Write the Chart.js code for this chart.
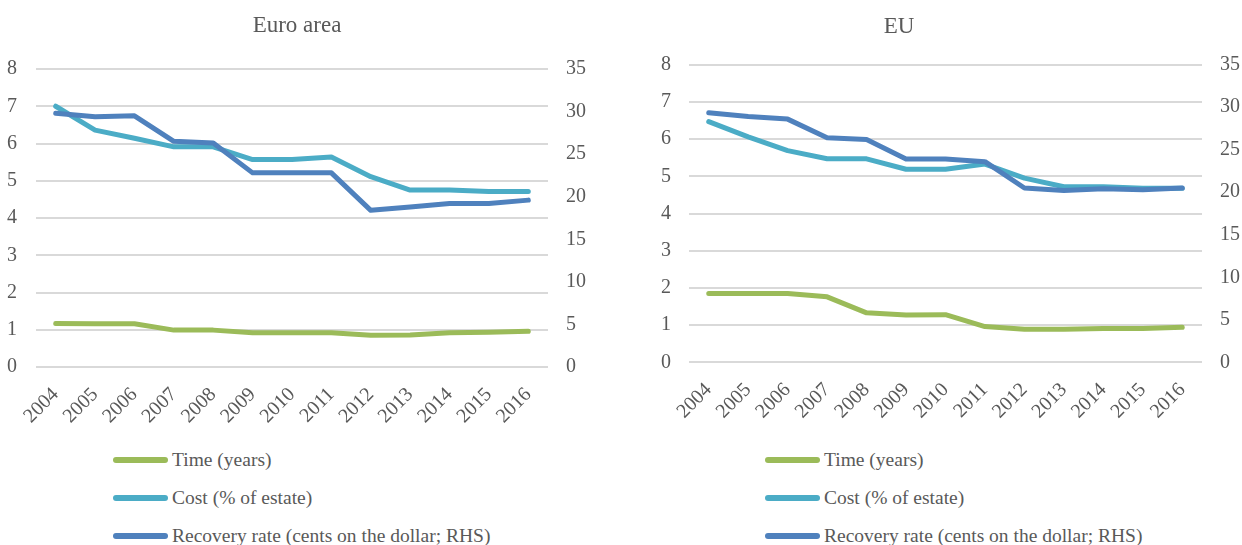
<!DOCTYPE html>
<html>
<head>
<meta charset="utf-8">
<script src="https://cdn.jsdelivr.net/npm/chart.js@4"></script>
<style>
  body { margin: 0; background: #fff; width: 1242px; height: 545px; position: relative; overflow: hidden; }
  .box { position: absolute; top: 0; height: 430px; }
  .legend { position: absolute; font-family: "Liberation Serif", serif; font-size: 19.5px; color: #595959; }
  .legend div { position: absolute; white-space: nowrap; height: 24px; line-height: 24px; }
  .legend span.swatch { position: absolute; left: 0; top: 9px; width: 55px; height: 6px; border-radius: 3px; }
  .legend span.txt { position: absolute; left: 59px; top: 0; }
</style>
</head>
<body>
<div class="box" style="left:0;width:620px"><canvas id="euroChart"></canvas></div>
<div class="box" style="left:556px;width:686px"><canvas id="euChart"></canvas></div>
<div class="legend" id="euroLegend" style="left:113px;top:448px"></div>
<div class="legend" id="euLegend" style="left:765px;top:448px"></div>
<script>
const years = ['2004','2005','2006','2007','2008','2009','2010','2011','2012','2013','2014','2015','2016'];

// Euro area
const euroTime = [1.17, 1.16, 1.16, 0.99, 0.99, 0.92, 0.92, 0.92, 0.85, 0.86, 0.92, 0.93, 0.96];
const euroCost = [7.0, 6.36, 6.14, 5.91, 5.91, 5.57, 5.57, 5.64, 5.11, 4.75, 4.75, 4.71, 4.71];
const euroRecovery = [29.8, 29.4, 29.5, 26.5, 26.3, 22.8, 22.8, 22.8, 18.4, 18.8, 19.2, 19.2, 19.6];

// EU
const euTime = [1.85, 1.85, 1.85, 1.76, 1.33, 1.27, 1.28, 0.96, 0.89, 0.89, 0.91, 0.91, 0.94];
const euCost = [6.47, 6.06, 5.69, 5.47, 5.47, 5.19, 5.19, 5.33, 4.95, 4.72, 4.72, 4.68, 4.68];
const euRecovery = [29.35, 28.9, 28.6, 26.4, 26.2, 23.9, 23.9, 23.6, 20.5, 20.2, 20.4, 20.3, 20.5];

const seriesNames = ['Time (years)', 'Cost (% of estate)', 'Recovery rate (cents on the dollar; RHS)'];
const seriesColors = ['#9BBB59', '#4BACC6', '#4F81BD'];

Chart.defaults.font.family = '"Liberation Serif", serif';
Chart.defaults.color = '#595959';

function makeChart(id, title, time, cost, recovery, lay) {
  const ctx = document.getElementById(id).getContext('2d');
  const line = (i, data, axis, order) => ({
    label: seriesNames[i],
    data: data,
    yAxisID: axis,
    borderColor: seriesColors[i],
    backgroundColor: seriesColors[i],
    borderWidth: 5,
    borderCapStyle: 'round',
    borderJoinStyle: 'round',
    tension: 0,
    pointRadius: 0,
    order: order
  });
  return new Chart(ctx, {
    type: 'line',
    data: {
      labels: years,
      datasets: [
        line(0, time, 'y', 2),
        line(1, cost, 'y', 1),
        line(2, recovery, 'y1', 0)
      ]
    },
    options: {
      responsive: true,
      maintainAspectRatio: false,
      animation: false,
      layout: { padding: { left: 0, right: lay.padRight, top: 0, bottom: 0 } },
      scales: {
        x: {
          offset: true,
          grid: { display: false },
          border: { display: false },
          ticks: { autoSkip: false, minRotation: 45, maxRotation: 45, padding: 8, font: { size: 20 } },
          afterFit: (s) => { s.height = lay.xHeight; }
        },
        y: {
          position: 'left',
          min: 0, max: 8,
          ticks: { stepSize: 1, padding: lay.leftPad, font: { size: 20 } },
          grid: { color: '#D9D9D9', lineWidth: 2, drawTicks: false },
          border: { display: false },
          afterFit: (s) => { s.width = lay.leftWidth; }
        },
        y1: {
          position: 'right',
          min: 0, max: 35,
          ticks: { stepSize: 5, padding: 18, font: { size: 20 } },
          grid: { display: false, drawTicks: false },
          border: { display: false },
          afterFit: (s) => { s.width = lay.rightWidth; }
        }
      },
      plugins: {
        legend: { display: false },
        tooltip: { enabled: false },
        title: {
          display: true,
          text: title,
          font: { size: 23, weight: 'normal' },
          color: '#595959',
          padding: { top: lay.titleTop, bottom: lay.titleBottom }
        }
      }
    }
  });
}

function makeLegend(id, chart) {
  const el = document.getElementById(id);
  const gaps = [0, 37.5, 75.5];
  chart.data.datasets.forEach((ds, i) => {
    const row = document.createElement('div');
    row.style.top = gaps[i] + 'px';
    row.innerHTML = '<span class="swatch" style="background:' + ds.borderColor + '"></span><span class="txt">' + ds.label + '</span>';
    el.appendChild(row);
  });
}

const euroChart = makeChart('euroChart', 'Euro area', euroTime, euroCost, euroRecovery,
  { leftWidth: 36, leftPad: 19, rightWidth: 46, padRight: 26, xHeight: 63, titleTop: 12, titleBottom: 29.4 });
const euChart = makeChart('euChart', 'EU', euTime, euCost, euRecovery,
  { leftWidth: 133, leftPad: 18, rightWidth: 40, padRight: 0, xHeight: 67.7, titleTop: 13, titleBottom: 24.1 });

makeLegend('euroLegend', euroChart);
makeLegend('euLegend', euChart);
</script>
</body>
</html>
